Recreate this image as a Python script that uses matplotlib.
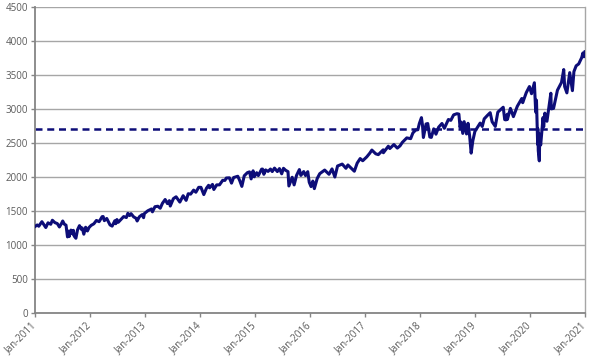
import numpy as np
import matplotlib
matplotlib.use("Agg")
import matplotlib.pyplot as plt
import matplotlib.dates as mdates

dates = [
 "2011-01-03","2011-01-18","2011-01-28","2011-02-18","2011-03-01","2011-03-16","2011-03-31","2011-04-18","2011-04-29","2011-05-16",
 "2011-06-01","2011-06-15","2011-06-30","2011-07-07","2011-07-18","2011-07-29","2011-08-08","2011-08-15","2011-08-19","2011-08-31",
 "2011-09-12","2011-09-16","2011-09-22","2011-10-03","2011-10-14","2011-10-27","2011-11-09","2011-11-14","2011-11-25","2011-12-07",
 "2011-12-19","2011-12-30",
 "2012-01-13","2012-01-31","2012-02-17","2012-03-06","2012-03-26","2012-04-02","2012-04-10","2012-04-26","2012-05-18","2012-06-01",
 "2012-06-19","2012-06-25","2012-07-03","2012-07-12","2012-07-31","2012-08-17","2012-09-04","2012-09-14","2012-09-26","2012-10-05",
 "2012-10-23","2012-11-07","2012-11-15","2012-11-30","2012-12-18","2012-12-28",
 "2013-01-02","2013-01-25","2013-02-19","2013-02-25","2013-03-14","2013-04-02","2013-04-18","2013-05-03","2013-05-21","2013-06-05",
 "2013-06-18","2013-06-24","2013-07-15","2013-08-02","2013-08-27","2013-09-18","2013-10-08","2013-10-22","2013-11-07","2013-11-27",
 "2013-12-12","2013-12-31",
 "2014-01-15","2014-02-03","2014-02-21","2014-03-07","2014-03-14","2014-04-02","2014-04-11","2014-04-30","2014-05-19","2014-06-09",
 "2014-06-24","2014-07-03","2014-07-24","2014-08-07","2014-08-21","2014-09-18","2014-10-01","2014-10-15","2014-10-31","2014-11-21",
 "2014-12-05","2014-12-16","2014-12-29",
 "2015-01-06","2015-01-22","2015-02-02","2015-02-24","2015-03-02","2015-03-11","2015-03-23","2015-04-08","2015-04-24","2015-05-06",
 "2015-05-21","2015-06-09","2015-06-23","2015-07-08","2015-07-20","2015-08-03","2015-08-19","2015-08-25","2015-09-16","2015-09-29",
 "2015-10-15","2015-11-03","2015-11-13","2015-12-02","2015-12-14","2015-12-29",
 "2016-01-08","2016-01-20","2016-02-01","2016-02-11","2016-03-01","2016-03-18","2016-04-20","2016-05-19","2016-06-08","2016-06-27",
 "2016-07-15","2016-08-15","2016-09-09","2016-09-22","2016-10-13","2016-11-04","2016-11-23","2016-12-13","2016-12-30",
 "2017-01-26","2017-02-15","2017-03-01","2017-03-27","2017-04-13","2017-05-16","2017-05-17","2017-06-19","2017-06-29","2017-07-26",
 "2017-08-18","2017-09-05","2017-09-20","2017-10-20","2017-11-15","2017-11-30","2017-12-18",
 "2018-01-02","2018-01-12","2018-01-26","2018-02-02","2018-02-08","2018-02-26","2018-03-09","2018-03-23","2018-04-02","2018-04-18",
 "2018-05-03","2018-05-21","2018-06-12","2018-06-28","2018-07-25","2018-08-10","2018-08-29","2018-09-20","2018-10-03","2018-10-11",
 "2018-10-17","2018-10-29","2018-11-07","2018-11-23","2018-12-03","2018-12-14","2018-12-24",
 "2019-01-04","2019-01-18","2019-02-22","2019-03-08","2019-03-21","2019-04-12","2019-04-30","2019-05-13","2019-06-03","2019-06-20",
 "2019-07-26","2019-08-05","2019-08-14","2019-08-22","2019-08-23","2019-09-12","2019-10-02","2019-10-28","2019-11-27","2019-12-03",
 "2019-12-27",
 "2020-01-17","2020-01-31","2020-02-19","2020-02-28","2020-03-04","2020-03-12","2020-03-13","2020-03-16","2020-03-23","2020-03-26",
 "2020-04-01","2020-04-17","2020-04-21","2020-04-29","2020-05-13","2020-06-08","2020-06-11","2020-06-26","2020-07-22","2020-08-18",
 "2020-09-02","2020-09-08","2020-09-23","2020-10-12","2020-10-30","2020-11-09","2020-11-24","2020-12-11","2020-12-31",
 "2021-01-08","2021-01-15","2021-01-22",
]
values = [
 1271,1295,1276,1343,1306,1257,1326,1305,1364,1329,
 1315,1265,1321,1353,1306,1292,1119,1204,1124,1219,
 1162,1216,1130,1099,1224,1285,1229,1251,1159,1261,
 1206,1258,
 1289,1312,1361,1343,1416,1419,1358,1390,1295,1278,
 1357,1313,1374,1334,1379,1418,1404,1466,1433,1461,
 1413,1394,1353,1416,1446,1402,
 1462,1503,1530,1488,1563,1570,1541,1614,1669,1609,
 1652,1573,1682,1709,1631,1725,1656,1754,1748,1807,
 1776,1848,
 1848,1742,1836,1878,1841,1891,1816,1884,1885,1951,
 1950,1985,1988,1910,1992,2011,1946,1862,2018,2064,
 2075,1972,2091,
 2003,2063,2021,2115,2117,2040,2104,2082,2117,2080,
 2131,2080,2124,2047,2128,2099,2079,1868,1996,1884,
 2023,2109,2023,2080,2021,2078,
 1922,1859,1940,1829,1978,2049,2102,2040,2119,2000,
 2162,2190,2128,2177,2132,2085,2204,2271,2239,
 2296,2350,2396,2341,2329,2400,2357,2453,2419,2477,
 2425,2458,2508,2575,2564,2648,2690,
 2695,2786,2873,2762,2581,2780,2786,2588,2582,2708,
 2630,2733,2787,2716,2846,2833,2914,2931,2925,2728,
 2809,2641,2814,2633,2790,2600,2351,
 2532,2671,2793,2743,2855,2907,2946,2812,2744,2954,
 3026,2844,2840,2923,2847,3009,2888,3040,3154,3093,
 3241,
 3330,3225,3386,2954,3130,2480,2711,2386,2237,2630,
 2470,2875,2737,2939,2820,3232,3002,3009,3276,3390,
 3580,3331,3237,3535,3270,3550,3635,3663,3756,
 3824,3768,3841,
]
reference_level = 2700
y_ticks = [0, 500, 1000, 1500, 2000, 2500, 3000, 3500, 4000, 4500]
x_tick_labels = ["Jan-2011","Jan-2012","Jan-2013","Jan-2014","Jan-2015","Jan-2016",
                 "Jan-2017","Jan-2018","Jan-2019","Jan-2020","Jan-2021"]

x = mdates.date2num(np.array(dates, dtype="datetime64[D]"))

fig = plt.figure(figsize=(5.91, 3.60), dpi=100)
ax = fig.add_axes([35/591, 1-313/360, 550/591, 306/360])

grid_c = "#a6a6a6"
ax.set_ylim(0, 4500)
ax.set_yticks(y_ticks)
ax.yaxis.grid(True, color=grid_c, linewidth=1.0)
ax.set_axisbelow(True)

ax.plot(x, values, color="#0d0d78", linewidth=2.2, solid_joinstyle="round", zorder=3)
ax.axhline(reference_level, color="#0d0d78", linewidth=1.8, dashes=(2.8, 1.9), zorder=2)

ax.set_xlim(x[0], x[-1])
ax.set_xticks(np.linspace(x[0], x[-1], len(x_tick_labels)))
ax.set_xticklabels(x_tick_labels, rotation=45, ha="right", va="center",
                   rotation_mode="anchor")

for s in ["left", "bottom"]:
    ax.spines[s].set_color("#858585")
    ax.spines[s].set_linewidth(1.3)
ax.spines["right"].set_color(grid_c)
ax.spines["right"].set_linewidth(1.0)
ax.spines["top"].set_visible(False)

ax.tick_params(axis="both", colors="#858585", length=3, width=1, labelcolor="#5a5a5a",
               labelsize=7)
ax.tick_params(axis="y", pad=2)
ax.tick_params(axis="x", pad=5)
for lab in ax.get_xticklabels() + ax.get_yticklabels():
    lab.set_fontfamily("Open Sans")

fig.savefig("out.png", dpi=100)
